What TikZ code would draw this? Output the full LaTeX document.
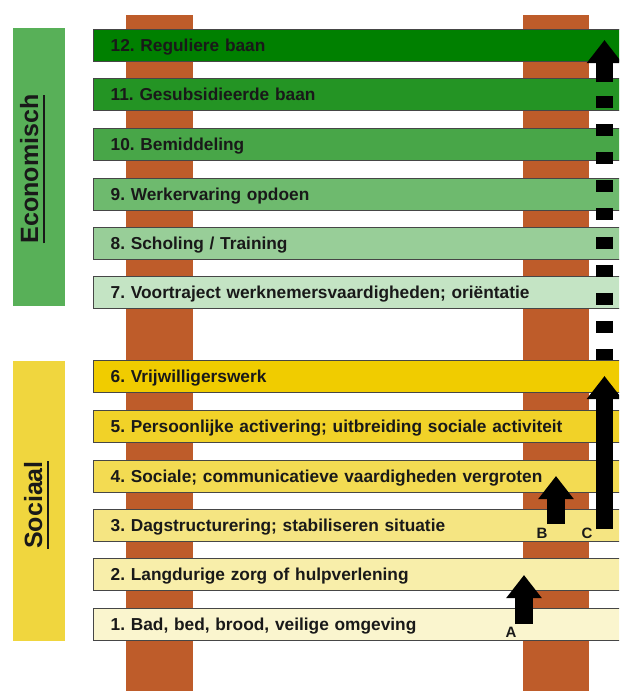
\documentclass[tikz,border=0pt]{standalone}
\usepackage{fontspec}
\setmainfont{Liberation Sans}
\usetikzlibrary{arrows.meta}
\frenchspacing

% palette
\definecolor{post}{RGB}{190,92,42}
\definecolor{edge}{RGB}{70,70,70}
\definecolor{ink}{RGB}{25,25,25}
\definecolor{ecobox}{RGB}{88,176,88}
\definecolor{socbox}{RGB}{240,214,62}
\definecolor{g12}{RGB}{0,128,0}
\definecolor{g11}{RGB}{36,148,36}
\definecolor{g10}{RGB}{72,166,72}
\definecolor{g9}{RGB}{110,186,110}
\definecolor{g8}{RGB}{152,206,152}
\definecolor{g7}{RGB}{196,228,196}
\definecolor{y6}{RGB}{240,204,0}
\definecolor{y5}{RGB}{241,210,40}
\definecolor{y4}{RGB}{243,219,82}
\definecolor{y3}{RGB}{245,229,130}
\definecolor{y2}{RGB}{248,238,170}
\definecolor{y1}{RGB}{250,245,206}

% text with a heavier underline set a little lower
\newcommand\deepline[1]{\vtop{\hbox{#1}\kern4.5pt\hrule height 1.8pt}}

\tikzset{
  levelbar/.style={draw=edge, line width=1.3pt, anchor=north west,
    minimum width=540pt, minimum height=32pt, text width=506pt,
    inner xsep=17pt, inner ysep=0pt, align=left,
    text height=12.4pt, text depth=0pt, text=ink,
    font=\fontsize{17.3}{18}\selectfont\bfseries},
  sidebox/.style={fill=#1, draw=none},
  sidetitle/.style={rotate=90, anchor=base, text=ink,
    font=\fontsize{25}{26}\selectfont\bfseries},
  blockarrow/.style={line width=17.5pt, black,
    -{Triangle[width=34pt,length=23pt]}},
  dottedtrack/.style={line width=17.5pt, black, dash pattern=on 12pt off 16.1pt},
  steplabel/.style={text=ink, font=\fontsize{15}{16}\selectfont\bfseries, inner sep=0pt}
}

\begin{document}
\begin{tikzpicture}[x=1pt,y=-1pt]
\useasboundingbox (0,0) rectangle (619,691);
\clip (0,0) rectangle (619,691);
\fill[white] (0,0) rectangle (619,691);

% the two posts of the ladder
\fill[post] (126,15) rectangle (193,691);
\fill[post] (523,15) rectangle (589,691);

% side titles
\fill[sidebox=ecobox] (13,28) rectangle (65,306);
\fill[sidebox=socbox] (13,361) rectangle (65,641);
\node[sidetitle] (eco) at (38,169) {\deepline{Economisch}};
\node[sidetitle] (soc) at (42,505) {\deepline{Sociaal}};

% the rungs
\node[levelbar, fill=g12] (b12) at (93,28.5)  {12. Reguliere baan};
\node[levelbar, fill=g11] (b11) at (93,78)    {11. Gesubsidieerde baan};
\node[levelbar, fill=g10] (b10) at (93,128)   {10. Bemiddeling};
\node[levelbar, fill=g9]  (b9)  at (93,178)   {9. Werkervaring opdoen};
\node[levelbar, fill=g8]  (b8)  at (93,227)   {8. Scholing / Training};
\node[levelbar, fill=g7]  (b7)  at (93,276)   {7. Voortraject werknemersvaardigheden; oriëntatie};
\node[levelbar, fill=y6]  (b6)  at (93,360)   {6. Vrijwilligerswerk};
\node[levelbar, fill=y5]  (b5)  at (93,410)   {5. Persoonlijke activering; uitbreiding sociale activiteit};
\node[levelbar, fill=y4]  (b4)  at (93,460)   {4. Sociale; communicatieve vaardigheden vergroten};
\node[levelbar, fill=y3]  (b3)  at (93,509)   {3. Dagstructurering; stabiliseren situatie};
\node[levelbar, fill=y2]  (b2)  at (93,558)   {2. Langdurige zorg of hulpverlening};
\node[levelbar, fill=y1]  (b1)  at (93,608)   {1. Bad, bed, brood, veilige omgeving};

% arrow ends
\coordinate (aFrom) at (524,624);   \coordinate (aTo) at (524,575);
\coordinate (bFrom) at (556,524);   \coordinate (bTo) at (556,476);
\coordinate (cFrom) at (604.5,529); \coordinate (cTo) at (604.5,376);
\coordinate (dLow)  at (604.5,360); \coordinate (dHigh) at (604.5,96);
\coordinate (tFrom) at (604.5,82);  \coordinate (tTo) at (604.5,40);

\draw[blockarrow] (aFrom) -- (aTo);
\draw[blockarrow] (bFrom) -- (bTo);
\draw[blockarrow] (cFrom) -- (cTo);
\draw[dottedtrack] (dHigh) -- (dLow);
\draw[blockarrow] (tFrom) -- (tTo);

\node[steplabel] (la) at (511,632) {A};
\node[steplabel] (lb) at (542,533) {B};
\node[steplabel] (lc) at (587,533) {C};
\end{tikzpicture}
\end{document}
